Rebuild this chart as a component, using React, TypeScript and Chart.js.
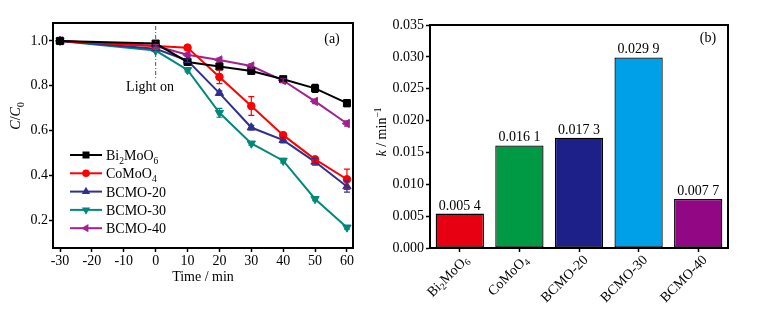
import React, { useEffect, useRef } from 'react';
import { Chart, registerables } from 'chart.js';

Chart.register(...registerables);

const FONT = '"Liberation Serif", "Times New Roman", serif';

// ---------- Panel (a) data ----------
const times = [-30, 0, 10, 20, 30, 40, 50, 60];
const xTicksA = [-30, -20, -10, 0, 10, 20, 30, 40, 50, 60];
const yTicksA = [0.2, 0.4, 0.6, 0.8, 1.0];

const seriesNames = ['Bi_{2}MoO_{6}', 'CoMoO_{4}', 'BCMO-20', 'BCMO-30', 'BCMO-40'];
const bi2moo6 = [1.0, 0.988, 0.906, 0.886, 0.866, 0.829, 0.788, 0.722];
const comoo4 = [1.0, 0.977, 0.970, 0.839, 0.709, 0.579, 0.471, 0.382];
const bcmo20 = [1.0, 0.965, 0.912, 0.767, 0.613, 0.557, 0.460, 0.350];
const bcmo30 = [1.0, 0.957, 0.870, 0.679, 0.542, 0.465, 0.294, 0.167];
const bcmo40 = [1.0, 0.977, 0.938, 0.915, 0.888, 0.823, 0.730, 0.631];

const errBi = [0, 0.008, 0.008, 0.008, 0.008, 0.008, 0.018, 0.016];
const errCo = [0, 0.006, 0.008, 0.03, 0.042, 0.01, 0.01, 0.045];
const err20 = [0, 0.008, 0.008, 0.01, 0.01, 0.012, 0.015, 0.025];
const err30 = [0, 0.006, 0.008, 0.02, 0.008, 0.01, 0.008, 0.008];
const err40 = [0, 0.006, 0.008, 0.008, 0.01, 0.008, 0.01, 0.012];

const lineColors = ['#000000', '#ff0000', '#2e3192', '#00897b', '#a3218e'];
const markers = ['square', 'circle', 'up', 'down', 'left'];

// ---------- Panel (b) data ----------
const barCategories = ['Bi_{2}MoO_{6}', 'CoMoO_{4}', 'BCMO-20', 'BCMO-30', 'BCMO-40'];
const rateValues = [0.0054, 0.0161, 0.0173, 0.0299, 0.0077];
const barColors = ['#e60012', '#009944', '#1d2088', '#00a0e9', '#920783'];
const yTicksB = [0, 0.005, 0.01, 0.015, 0.02, 0.025, 0.03, 0.035];

// ---------- rich text helpers ----------
type Seg = { t: string; sub?: boolean; sup?: boolean; it?: boolean };
function parse(s: string): Seg[] {
  const segs: Seg[] = [];
  let i = 0;
  let it = false;
  let buf = '';
  const flush = () => {
    if (buf) { segs.push({ t: buf, it }); buf = ''; }
  };
  while (i < s.length) {
    const c = s[i];
    if (c === '*') { flush(); it = !it; i++; continue; }
    if ((c === '_' || c === '^') && s[i + 1] === '{') {
      flush();
      const j = s.indexOf('}', i);
      segs.push({ t: s.slice(i + 2, j), sub: c === '_', sup: c === '^', it });
      i = j + 1;
      continue;
    }
    buf += c;
    i++;
  }
  flush();
  return segs;
}
function fontFor(seg: Seg, size: number) {
  const sz = seg.sub || seg.sup ? size * 0.68 : size;
  return `${seg.it ? 'italic ' : ''}${sz}px ${FONT}`;
}
function drawRich(ctx: CanvasRenderingContext2D, s: string, x: number, y: number, size: number, align: 'left' | 'center' | 'right') {
  const segs = parse(s);
  let w = 0;
  for (const seg of segs) { ctx.font = fontFor(seg, size); w += ctx.measureText(seg.t).width; }
  let cx = align === 'left' ? x : align === 'center' ? x - w / 2 : x - w;
  ctx.textAlign = 'left';
  for (const seg of segs) {
    ctx.font = fontFor(seg, size);
    const dy = seg.sub ? size * 0.28 : seg.sup ? -size * 0.38 : 0;
    ctx.fillText(seg.t, cx, y + dy);
    cx += ctx.measureText(seg.t).width;
  }
}

function drawMarker(ctx: CanvasRenderingContext2D, kind: string, x: number, y: number, color: string) {
  ctx.save();
  ctx.fillStyle = color;
  ctx.strokeStyle = color;
  ctx.beginPath();
  const r = 4.8;
  if (kind === 'square') ctx.rect(x - 3.5, y - 3.5, 7, 7);
  else if (kind === 'circle') ctx.arc(x, y, 3.8, 0, Math.PI * 2);
  else {
    const rot = kind === 'up' ? 0 : kind === 'down' ? Math.PI : -Math.PI / 2;
    for (let k = 0; k < 3; k++) {
      const a = rot + (k * 2 * Math.PI) / 3;
      const px = x + r * Math.sin(a);
      const py = y - r * Math.cos(a);
      if (k === 0) ctx.moveTo(px, py); else ctx.lineTo(px, py);
    }
    ctx.closePath();
  }
  ctx.fill();
  ctx.restore();
}

const framePlugin = {
  id: 'frame',
  afterDraw(chart: any) {
    const { ctx, chartArea: a } = chart;
    ctx.save();
    ctx.strokeStyle = '#000';
    ctx.lineWidth = 2;
    ctx.strokeRect(a.left, a.top, a.right - a.left, a.bottom - a.top);
    ctx.restore();
  },
};

const TICK_FONT = { family: FONT, size: 14 };

function LineChart() {
  const ref = useRef<HTMLCanvasElement>(null);
  useEffect(() => {
    const canvas = ref.current!;
    const values = [bi2moo6, comoo4, bcmo20, bcmo30, bcmo40];
    const errs = [errBi, errCo, err20, err30, err40];
    const styleMap: any = {
      square: { pointStyle: 'rect', pointRadius: 5, pointRotation: 0 },
      circle: { pointStyle: 'circle', pointRadius: 3.8, pointRotation: 0 },
      up: { pointStyle: 'triangle', pointRadius: 4.8, pointRotation: 0 },
      down: { pointStyle: 'triangle', pointRadius: 4.8, pointRotation: 180 },
      left: { pointStyle: 'triangle', pointRadius: 4.8, pointRotation: -90 },
    };
    const datasets = seriesNames.map((name, i) => ({
      label: name,
      data: times.map((t, j) => ({ x: t, y: values[i][j] })),
      borderColor: lineColors[i],
      backgroundColor: lineColors[i],
      pointBackgroundColor: lineColors[i],
      pointBorderColor: lineColors[i],
      borderWidth: 2,
      pointBorderWidth: 1,
      ...styleMap[markers[i]],
    }));

    const errorPlugin = {
      id: 'errbars',
      afterDatasetsDraw(chart: any) {
        const { ctx } = chart;
        const ys = chart.scales.y;
        ctx.save();
        errs.forEach((e, i) => {
          const meta = chart.getDatasetMeta(i);
          ctx.strokeStyle = lineColors[i];
          ctx.lineWidth = 1.2;
          e.forEach((ev, j) => {
            if (!ev) return;
            const x = meta.data[j].x;
            const t = ys.getPixelForValue(values[i][j] + ev);
            const b = ys.getPixelForValue(values[i][j] - ev);
            ctx.beginPath();
            ctx.moveTo(x, t); ctx.lineTo(x, b);
            ctx.moveTo(x - 3, t); ctx.lineTo(x + 3, t);
            ctx.moveTo(x - 3, b); ctx.lineTo(x + 3, b);
            ctx.stroke();
          });
        });
        ctx.restore();
      },
    };

    const decorPlugin = {
      id: 'decorA',
      afterDraw(chart: any) {
        const { ctx, chartArea: a } = chart;
        const xs = chart.scales.x;
        ctx.save();
        ctx.fillStyle = '#000';
        // Light on marker
        const x0 = xs.getPixelForValue(0);
        ctx.strokeStyle = '#2c5f87';
        ctx.lineWidth = 1;
        ctx.setLineDash([4, 2, 1, 2]);
        ctx.beginPath();
        ctx.moveTo(x0, a.top + 3);
        ctx.lineTo(x0, 80);
        ctx.stroke();
        ctx.setLineDash([]);
        ctx.textBaseline = 'alphabetic';
        drawRich(ctx, 'Light on', 150, 91, 14, 'center');
        // panel label
        drawRich(ctx, '(a)', 332, 43, 14, 'center');
        // x title
        drawRich(ctx, 'Time / min', (a.left + a.right) / 2, 281, 14, 'center');
        // y title
        ctx.save();
        ctx.translate(20, 116);
        ctx.rotate(-Math.PI / 2);
        drawRich(ctx, '*C*/*C*_{0}', 0, 0, 14, 'center');
        ctx.restore();
        // legend
        seriesNames.forEach((name, i) => {
          const y = 155 + i * 18.3;
          ctx.strokeStyle = lineColors[i];
          ctx.lineWidth = 2;
          ctx.beginPath();
          ctx.moveTo(70, y);
          ctx.lineTo(102, y);
          ctx.stroke();
          drawMarker(ctx, markers[i], 86, y, lineColors[i]);
          ctx.fillStyle = '#000';
          ctx.textBaseline = 'alphabetic';
          drawRich(ctx, name, 106, y + 5, 14, 'left');
        });
        ctx.restore();
      },
    };

    const chart = new Chart(canvas, {
      type: 'line',
      data: { datasets: datasets as any },
      plugins: [errorPlugin, framePlugin, decorPlugin],
      options: {
        animation: false,
        responsive: false,
        layout: { padding: { top: 23, right: 27, left: 0, bottom: 0 } },
        plugins: { legend: { display: false }, tooltip: { enabled: false } },
        scales: {
          x: {
            type: 'linear',
            min: -32.2,
            max: 61.9,
            afterBuildTicks: (s: any) => { s.ticks = xTicksA.map((v) => ({ value: v })); },
            afterFit: (s: any) => { s.height = 69; },
            ticks: { font: TICK_FONT, color: '#000', padding: 1, maxRotation: 0, autoSkip: false, callback: (v: any) => String(v) },
            grid: { drawOnChartArea: false, tickLength: 4, tickWidth: 1.5, tickColor: '#000' },
            border: { color: '#000', width: 2 },
          },
          y: {
            type: 'linear',
            min: 0.075,
            max: 1.08,
            afterBuildTicks: (s: any) => { s.ticks = yTicksA.map((v) => ({ value: v })); },
            afterFit: (s: any) => { s.width = 53; },
            ticks: { font: TICK_FONT, color: '#000', padding: 1, autoSkip: false, callback: (v: any) => Number(v).toFixed(1) },
            grid: { drawOnChartArea: false, tickLength: 4, tickWidth: 1.5, tickColor: '#000' },
            border: { color: '#000', width: 2 },
          },
        },
      },
    });
    return () => chart.destroy();
  }, []);
  return <canvas ref={ref} width={380} height={317} style={{ position: 'absolute', left: 0, top: 0, display: 'block' }} />;
}

function BarChart() {
  const ref = useRef<HTMLCanvasElement>(null);
  useEffect(() => {
    const canvas = ref.current!;
    const decorPlugin = {
      id: 'decorB',
      afterDraw(chart: any) {
        const { ctx } = chart;
        const meta = chart.getDatasetMeta(0);
        ctx.save();
        ctx.fillStyle = '#000';
        ctx.textBaseline = 'alphabetic';
        // value labels
        meta.data.forEach((bar: any, i: number) => {
          const s = rateValues[i].toFixed(4);
          const txt = s.slice(0, -1) + ' ' + s.slice(-1);
          drawRich(ctx, txt, bar.x, bar.y - 4, 14, 'center');
        });
        // rotated category labels
        ctx.textBaseline = 'middle';
        meta.data.forEach((bar: any, i: number) => {
          ctx.save();
          ctx.translate(bar.x + 7, 258);
          ctx.rotate(-Math.PI / 4);
          drawRich(ctx, barCategories[i], 0, 0, 14, 'right');
          ctx.restore();
        });
        // panel label
        ctx.textBaseline = 'alphabetic';
        drawRich(ctx, '(b)', 343, 42, 14, 'center');
        // y title
        ctx.save();
        ctx.translate(21, 132);
        ctx.rotate(-Math.PI / 2);
        drawRich(ctx, '*k* / min^{−1}', 0, 0, 14, 'center');
        ctx.restore();
        ctx.restore();
      },
    };
    const chart = new Chart(canvas, {
      type: 'bar',
      data: {
        labels: barCategories,
        datasets: [
          {
            data: rateValues,
            backgroundColor: barColors,
            borderColor: '#000',
            borderWidth: 1.3,
            borderSkipped: false,
            barPercentage: 0.81,
            categoryPercentage: 1,
          },
        ],
      },
      plugins: [framePlugin, decorPlugin],
      options: {
        animation: false,
        responsive: false,
        layout: { padding: { top: 25, right: 35, left: 0, bottom: 0 } },
        plugins: { legend: { display: false }, tooltip: { enabled: false } },
        scales: {
          x: {
            type: 'category',
            afterFit: (s: any) => { s.height = 69; },
            ticks: { font: TICK_FONT, color: '#000', callback: () => '', maxRotation: 0 },
            grid: { offset: false, drawOnChartArea: false, tickLength: 4, tickWidth: 1.5, tickColor: '#000' },
            border: { color: '#000', width: 2 },
          },
          y: {
            type: 'linear',
            min: 0,
            max: 0.035,
            afterBuildTicks: (s: any) => { s.ticks = yTicksB.map((v) => ({ value: v })); },
            afterFit: (s: any) => { s.width = 65; },
            ticks: { font: TICK_FONT, color: '#000', padding: 2, autoSkip: false, callback: (v: any) => Number(v).toFixed(3) },
            grid: { drawOnChartArea: false, tickLength: 4, tickWidth: 1.5, tickColor: '#000' },
            border: { color: '#000', width: 2 },
          },
        },
      },
    });
    return () => chart.destroy();
  }, []);
  return <canvas ref={ref} width={398} height={317} style={{ position: 'absolute', left: 365, top: 0, display: 'block' }} />;
}

export default function App() {
  return (
    <div style={{ position: 'fixed', left: 0, top: 0, width: 763, height: 317, background: '#fff' }}>
      <LineChart />
      <BarChart />
    </div>
  );
}
